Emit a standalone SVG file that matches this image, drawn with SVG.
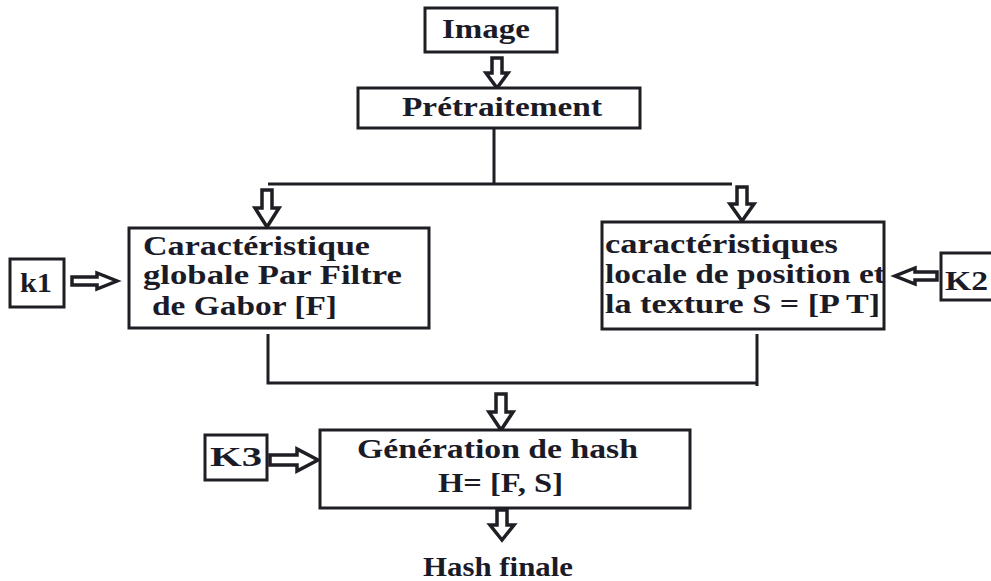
<svg xmlns="http://www.w3.org/2000/svg" width="991" height="581" viewBox="0 0 991 581">
<style>
.box{fill:#fff;stroke:#1e1e24;stroke-width:3}
.ln{fill:none;stroke:#1e1e24;stroke-width:3}
.arr{fill:#fff;stroke:#1e1e24;stroke-width:3.5;stroke-linejoin:miter}
text{font-family:"Liberation Serif","Times New Roman",serif;font-weight:bold;font-size:27px;fill:#1b1b28}
</style>
<rect width="991" height="581" fill="#fff"/>
<g id="connectors">
<path class="arr" d="M492,58 H502 V73 H508 L497,88 L486,73 H492 Z"/>
<path class="ln" d="M494,128 V184 M268,184 H732"/>
<path class="arr" d="M262,190 H272 V208 H279 L267,227 L255,208 H262 Z"/>
<path class="arr" d="M737,187 H747 V204 H754 L742,221 L730,204 H737 Z"/>
<path class="ln" d="M268,334 V383 H757 M757,334 V386"/>
<path class="arr" d="M496,394 H506 V412 H513 L501,430 L489,412 H496 Z"/>
<path class="arr" d="M497,510 H507 V525 H514 L502,540 L490,525 H497 Z"/>
<path class="arr" d="M72,277 H97 V273 L117,281 L97,289 V285 H72 Z"/>
<path class="arr" d="M937,272 H915 V268 L895,276 L915,284 V280 H937 Z"/>
<path class="arr" d="M270,455 H297 V449 L318,460 L297,471 V465 H270 Z"/>
</g>
<g id="node-image">
<rect class="box" x="425" y="8" width="132" height="44"/>
<text x="442" y="38" textLength="88" lengthAdjust="spacingAndGlyphs">Image</text>
</g>
<g id="node-pretraitement">
<rect class="box" x="358" y="88" width="282" height="40"/>
<text x="402" y="116" textLength="200" lengthAdjust="spacingAndGlyphs">Prétraitement</text>
</g>
<g id="node-globale">
<rect class="box" x="129" y="228" width="300" height="100"/>
<text x="143" y="255" textLength="227" lengthAdjust="spacingAndGlyphs">Caractéristique</text>
<text x="143" y="284" textLength="259" lengthAdjust="spacingAndGlyphs">globale Par Filtre</text>
<text x="152" y="315" textLength="185" lengthAdjust="spacingAndGlyphs">de Gabor [F]</text>
</g>
<g id="node-locale">
<rect class="box" x="602" y="222" width="282" height="107"/>
<text x="605" y="253" textLength="233" lengthAdjust="spacingAndGlyphs">caractéristiques</text>
<text x="605" y="283" textLength="280" lengthAdjust="spacingAndGlyphs">locale de position et</text>
<text x="605" y="313" textLength="275" lengthAdjust="spacingAndGlyphs">la texture S = [P T]</text>
</g>
<g id="node-k1">
<rect class="box" x="10" y="259" width="54" height="48"/>
<text x="20" y="292" textLength="32" lengthAdjust="spacingAndGlyphs">k1</text>
</g>
<g id="node-k2">
<rect class="box" x="941" y="253" width="60" height="47"/>
<text x="945" y="290" textLength="43" lengthAdjust="spacingAndGlyphs">K2</text>
</g>
<g id="node-k3">
<rect class="box" x="205" y="435" width="62" height="45"/>
<text x="210" y="466" textLength="52" lengthAdjust="spacingAndGlyphs">K3</text>
</g>
<g id="node-hash">
<rect class="box" x="320" y="430" width="370" height="78"/>
<text x="357" y="458" textLength="281" lengthAdjust="spacingAndGlyphs">Génération de hash</text>
<text x="438" y="492" textLength="125" lengthAdjust="spacingAndGlyphs">H= [F, S]</text>
</g>
<g id="node-final">
<text x="423" y="576" textLength="150" lengthAdjust="spacingAndGlyphs">Hash finale</text>
</g>
</svg>
